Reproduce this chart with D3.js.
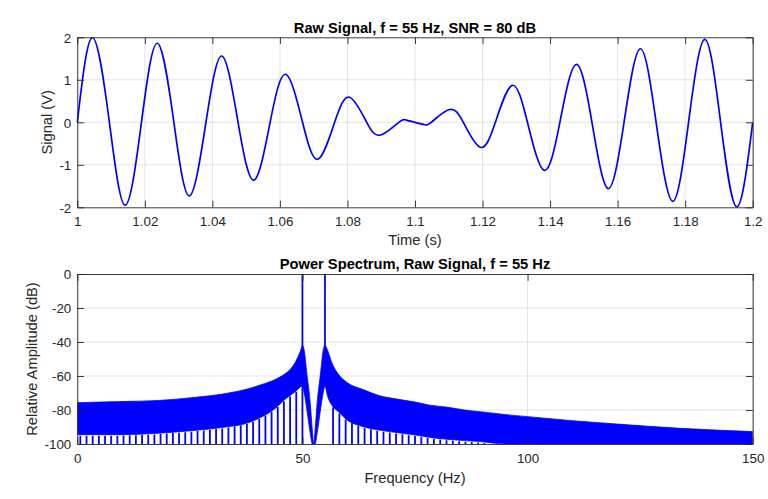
<!DOCTYPE html>
<html><head><meta charset="utf-8">
<script src="https://cdn.jsdelivr.net/npm/d3@7"></script>
<style>
html,body{margin:0;padding:0;background:#fff;}
svg{display:block;font-family:"Liberation Sans",Arial,Helvetica,sans-serif;}
</style></head>
<body>
<svg id="chart" width="768" height="499"></svg>
<script>
// ---------- data: raw signal (extrema and zero crossings) ----------
const sigTime = [1.0000,1.0045,1.0095,1.0142,1.0190,1.0237,1.0286,1.0332,1.0381,1.0428,1.0476,1.0523,1.0571,1.0617,1.0667,1.0712,1.0762,1.0806,1.0857,1.0898,1.0952,1.0975,1.1000,1.1025,1.1048,1.1102,1.1143,1.1194,1.1238,1.1288,1.1333,1.1383,1.1429,1.1477,1.1524,1.1572,1.1619,1.1667,1.1714,1.1763,1.1810,1.1858,1.1905,1.1953,1.2000];
const sigValue = [0,1.99,0,-1.95,0,1.86,0,-1.73,0,1.56,0,-1.36,0,1.13,0,-0.87,0,0.59,0,-0.30,0,0.05,0,-0.05,0,0.30,0,-0.59,0,0.87,0,-1.13,0,1.36,0,-1.56,0,1.73,0,-1.86,0,1.95,0,-1.99,0];
const timeTicks = [1,1.02,1.04,1.06,1.08,1.1,1.12,1.14,1.16,1.18,1.2];
const timeTickLabels = ["1","1.02","1.04","1.06","1.08","1.1","1.12","1.14","1.16","1.18","1.2"];
const sigTicks = [-2,-1,0,1,2];

// ---------- data: power spectrum (envelopes) ----------
const specFreq   = [0,10,18,26,33,38,41,44,46,47.5,48.5,49.3,49.8,50.0,50.4,51.0,51.7,52.2,52.5,52.8,53.3,54.0,54.6,55.0,55.6,56.5,58,60,63.5,67,71,75,78,82,86,89.5,95,100,110,120,134,150];
const specTop    = [-75.7,-75.0,-74.4,-72.6,-70.3,-67.5,-65.0,-62.0,-59.0,-55.5,-51.5,-47,-43.5,-42,-45,-59,-75,-92,-100,-92,-75,-59,-45,-42,-45,-52,-59,-64,-68,-71.5,-73.6,-75.3,-77,-78.3,-80,-81,-82.7,-83.9,-86.3,-88.3,-90.8,-92.7];
const specBottom = [-94.5,-94.5,-93.7,-92,-90,-87.5,-84,-79,-74,-71,-69,-67,-66,-66,-70,-80,-93,-100,-100,-100,-93,-80,-70,-66,-72,-77,-81,-86,-89.8,-91.8,-93.3,-94.7,-96,-97.2,-98,-98.6,-100,-100,-100,-100,-100,-100];
const toothFreq  = [0.68,2.05,3.42,4.79,6.16,7.53,8.90,10.27,11.64,13.01,14.38,15.75,17.12,18.49,19.86,21.23,22.60,23.97,25.34,26.71,28.08,29.45,30.82,32.19,33.56,34.93,36.30,37.67,39.04,40.41,41.78,43.15,44.52,45.89,47.26,48.63,
                    56.8,58.2,59.6,61.0,62.4,63.8,65.2,66.6,68.0,69.4,70.8,72.2,73.6,75.0,76.4,77.8,79.2,80.6,82.0,83.4,84.8,86.2,87.6,89.0,90.4];
const peakFreq   = [50.0,55.0];
const peakLevel  = [0,0];
const peakFoot   = [-100,-66];
const freqTicks  = [0,50,100,150];
const dbTicks    = [-100,-80,-60,-40,-20,0];

// ---------- layout ----------
const svg = d3.select("#chart");
const INK = "#262626", BLUE = "#0000ff";
const L = 77.3, R = 752.7;
const top1 = {t:37.3, b:207.3}, top2 = {t:274, b:444};
const TL = 6.8;

function frame(g, x, y, xt, xl, yt, yl, gridX, gridY, box){
  // grid
  g.append("g").selectAll("line").data(gridX).join("line")
    .attr("x1",d=>x(d)).attr("x2",d=>x(d)).attr("y1",box.t).attr("y2",box.b)
    .attr("stroke",INK).attr("stroke-opacity",0.15).attr("stroke-width",0.8);
  g.append("g").selectAll("line").data(gridY).join("line")
    .attr("x1",L).attr("x2",R).attr("y1",d=>y(d)).attr("y2",d=>y(d))
    .attr("stroke",INK).attr("stroke-opacity",0.15).attr("stroke-width",0.8);
}
function axes(g, x, y, xt, xl, yt, yl, box, xBase, yRight){
  const ax = g.append("g");
  // bottom and top x ticks (inward)
  const xb = d3.axisBottom(x).tickValues(xt).tickFormat((d,i)=>xl[i]).tickSizeInner(-TL).tickSizeOuter(0).tickPadding(9);
  const gxb = ax.append("g").attr("transform",`translate(0,${box.b})`).call(xb);
  const xtp = d3.axisTop(x).tickValues(xt).tickFormat("").tickSizeInner(-TL).tickSizeOuter(0);
  const gxt = ax.append("g").attr("transform",`translate(0,${box.t})`).call(xtp);
  const yl0 = d3.axisLeft(y).tickValues(yt).tickFormat((d,i)=>yl[i]).tickSizeInner(-TL).tickSizeOuter(0).tickPadding(6);
  const gyl = ax.append("g").attr("transform",`translate(${L},0)`).call(yl0);
  const yr = d3.axisRight(y).tickValues(yt).tickFormat("").tickSizeInner(-TL).tickSizeOuter(0);
  const gyr = ax.append("g").attr("transform",`translate(${R},0)`).call(yr);
  [gxb,gxt,gyl,gyr].forEach(s=>{
    s.select(".domain").attr("stroke",INK).attr("stroke-width",0.9);
    s.selectAll(".tick line").attr("stroke",INK).attr("stroke-width",0.9);
    s.selectAll("text").attr("fill",INK).attr("font-size",13.4).attr("font-family","'Liberation Sans',Arial,sans-serif");
  });
  gxb.selectAll("text").attr("dy",null).attr("y",null).attr("transform",null)
     .attr("y", xBase - box.b).attr("dy",0);
  gyl.selectAll("text").attr("dy","0.36em");
}

// ---------- top panel: raw signal ----------
const x1 = d3.scaleLinear().domain([1,1.2]).range([L,R]);
const y1 = d3.scaleLinear().domain([-2,2]).range([top1.b,top1.t]);
const g1 = svg.append("g");
frame(g1, x1, y1, null, null, null, null, timeTicks, sigTicks.slice(1,-1), top1);

svg.append("defs").append("clipPath").attr("id","clip1").append("rect")
  .attr("x",L-1).attr("y",top1.t-2).attr("width",R-L+2).attr("height",top1.b-top1.t+4);
const sigData = sigTime.map((t,i)=>({t, v:sigValue[i]}));
g1.append("path").datum(sigData)
  .attr("clip-path","url(#clip1)")
  .attr("fill","none").attr("stroke",BLUE).attr("stroke-width",1.7)
  .attr("d", d3.line().x(d=>x1(d.t)).y(d=>y1(d.v)).curve(d3.curveNatural));
axes(g1, x1, y1, timeTicks, timeTickLabels, sigTicks, sigTicks.map(String), top1, 226.3);

g1.append("text").attr("x",(L+R)/2).attr("y",32.6).attr("text-anchor","middle")
  .attr("font-weight","bold").attr("font-size",14.7).attr("fill","#000")
  .text("Raw Signal, f = 55 Hz, SNR = 80 dB");
g1.append("text").attr("x",(L+R)/2).attr("y",245.3).attr("text-anchor","middle")
  .attr("font-size",14.7).attr("fill",INK).text("Time (s)");
g1.append("text").attr("transform",`translate(52.3,${(top1.t+top1.b)/2}) rotate(-90)`)
  .attr("text-anchor","middle").attr("font-size",14.7).attr("fill",INK).text("Signal (V)");

// ---------- bottom panel: power spectrum ----------
const x2 = d3.scaleLinear().domain([0,150]).range([L,R]);
const y2 = d3.scaleLinear().domain([-100,0]).range([top2.b,top2.t]);
const g2 = svg.append("g");
frame(g2, x2, y2, null, null, null, null, freqTicks, dbTicks.slice(1,-1), top2);

svg.select("defs").append("clipPath").attr("id","clip2").append("rect")
  .attr("x",L).attr("y",top2.t).attr("width",R-L).attr("height",top2.b-top2.t);
const specData = specFreq.map((f,i)=>({f, top:specTop[i], bot:specBottom[i]}));
const sp = g2.append("g").attr("clip-path","url(#clip2)");
sp.append("path").datum(specData)
  .attr("fill",BLUE).attr("stroke",BLUE).attr("stroke-width",0.8)
  .attr("d", d3.area().x(d=>x2(d.f)).y0(d=>y2(d.bot)).y1(d=>y2(d.top)).curve(d3.curveMonotoneX));
const botAt = f => {
  const i = d3.bisectLeft(specFreq, f);
  const a = Math.max(0,i-1), b = Math.min(specFreq.length-1,i);
  if (a===b) return specBottom[a];
  const u = (f-specFreq[a])/(specFreq[b]-specFreq[a]);
  return specBottom[a] + u*(specBottom[b]-specBottom[a]);
};
sp.append("g").selectAll("line").data(toothFreq).join("line")
  .attr("x1",d=>x2(d)).attr("x2",d=>x2(d))
  .attr("y1",d=>y2(botAt(d))+1).attr("y2",y2(-100))
  .attr("stroke",BLUE).attr("stroke-width",1.8);
sp.append("g").selectAll("line").data(peakFreq).join("line")
  .attr("x1",d=>x2(d)).attr("x2",d=>x2(d))
  .attr("y1",(d,i)=>y2(peakLevel[i])).attr("y2",(d,i)=>y2(peakFoot[i]))
  .attr("stroke",BLUE).attr("stroke-width",1.8);
axes(g2, x2, y2, freqTicks, freqTicks.map(String), dbTicks, dbTicks.map(String), top2, 463.3);

g2.append("text").attr("x",(L+R)/2).attr("y",269).attr("text-anchor","middle")
  .attr("font-weight","bold").attr("font-size",14.7).attr("fill","#000")
  .text("Power Spectrum, Raw Signal, f = 55 Hz");
g2.append("text").attr("x",(L+R)/2).attr("y",482.6).attr("text-anchor","middle")
  .attr("font-size",14.7).attr("fill",INK).text("Frequency (Hz)");
g2.append("text").attr("transform",`translate(37,${(top2.t+top2.b)/2}) rotate(-90)`)
  .attr("text-anchor","middle").attr("font-size",14.7).attr("fill",INK).text("Relative Amplitude (dB)");
</script>
</body></html>
